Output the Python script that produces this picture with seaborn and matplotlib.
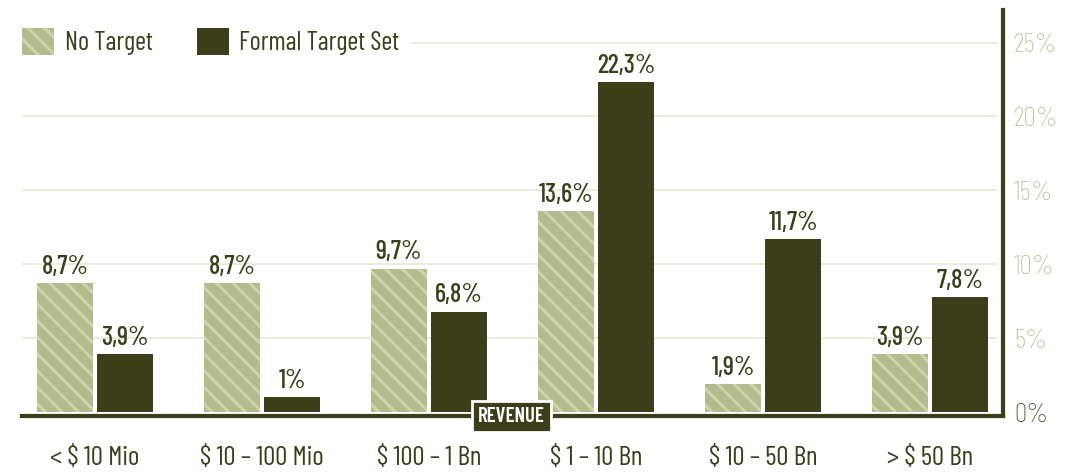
import matplotlib
matplotlib.use("Agg")
import matplotlib.pyplot as plt
import matplotlib.transforms as mtransforms
from matplotlib import font_manager
from matplotlib.patches import Patch
import seaborn as sns
import pandas as pd

categories = ["< $ 10 Mio", "$ 10 – 100 Mio", "$ 100 – 1 Bn", "$ 1 – 10 Bn", "$ 10 – 50 Bn", "> $ 50 Bn"]
no_target = [8.7, 8.7, 9.7, 13.6, 1.9, 3.9]
formal_target = [3.9, 1.0, 6.8, 22.3, 11.7, 7.8]
series_names = ["No Target", "Formal Target Set"]
y_ticks = [0, 5, 10, 15, 20, 25]

DARK = "#3c3e1a"
LIGHT = "#b3ba8b"
HATCH = "#cdd3ae"
GRID = "#e5e8d6"

avail = {f.name for f in font_manager.fontManager.ttflist}
FONT = "DejaVu Sans"
for cand in ["Barlow Condensed", "Barlow Semi Condensed", "Roboto Condensed",
             "Fira Sans Condensed", "Liberation Sans Narrow"]:
    if cand in avail:
        FONT = cand
        break

sns.set_theme(style="white")
plt.rcParams["font.family"] = [FONT, "DejaVu Sans"]
plt.rcParams["hatch.linewidth"] = 2.2

df = pd.DataFrame({
    "cat": categories * 2,
    "val": no_target + formal_target,
    "series": [series_names[0]] * len(categories) + [series_names[1]] * len(categories),
})

fig = plt.figure(figsize=(10.8, 4.72), dpi=100)
ax = fig.add_axes([0.0204, 0.1271, 0.9083, 0.8517])

sns.barplot(data=df, x="cat", y="val", hue="series", order=categories,
            hue_order=series_names, palette=[LIGHT, DARK], width=0.72, gap=0.07,
            saturation=1, legend=False, ax=ax, linewidth=0)

for p in ax.containers[0]:
    p.set_hatch("\\\\")
    p.set_edgecolor(HATCH)
    p.set_linewidth(0)

def fmt(v):
    s = f"{v:.1f}".replace(".", ",")
    if s.endswith(",0"):
        s = s[:-2]
    return s + "%"

for cont in ax.containers:
    ax.bar_label(cont, labels=[fmt(b.get_height()) for b in cont], padding=3,
                 fontsize=19, fontweight="medium", color=DARK)

ax.set_ylim(0, 27.2)
ax.set_xlim(-0.437, 5.437)

for t in y_ticks[1:]:
    ax.axhline(t, xmin=0, xmax=0.994, color=GRID, lw=1.2, zorder=0)

ax.yaxis.tick_right()
ax.set_yticks(y_ticks)
ax.set_yticklabels([f"{t}%" for t in y_ticks])
ax.tick_params(axis="y", length=0, pad=8, labelsize=20)
for lab, t in zip(ax.get_yticklabels(), y_ticks):
    lab.set_color(DARK if t == 0 else LIGHT)
    lab.set_fontweight("light")

ax.tick_params(axis="x", length=0, pad=21, labelsize=19.5, labelcolor=DARK)
for lab in ax.get_xticklabels():
    lab.set_fontweight("semibold")

ax.set_xlabel("")
ax.set_ylabel("")
for s in ["top", "left"]:
    ax.spines[s].set_visible(False)
ax.spines["bottom"].set_color(DARK)
ax.spines["bottom"].set_linewidth(3)
ax.spines["bottom"].set_position(("data", -0.3))
ax.spines["right"].set_color(DARK)
ax.spines["right"].set_linewidth(3)
ax.spines["right"].set_bounds(-0.3, 27.2)

trans = mtransforms.blended_transform_factory(ax.transAxes, ax.transData)
ax.text(0.499, -0.3, "REVENUE", transform=trans,
        ha="center", va="center", fontsize=15, fontweight="semibold", color="white",
        bbox=dict(boxstyle="square,pad=0.3", fc=DARK, ec="white", lw=2), zorder=10)

handles = [Patch(facecolor=LIGHT, edgecolor=HATCH, hatch="\\\\", lw=0, label=series_names[0]),
           Patch(facecolor=DARK, edgecolor=DARK, lw=0, label=series_names[1])]
leg = ax.legend(handles=handles, loc="upper left", ncol=2, frameon=True, fontsize=19,
                bbox_to_anchor=(-0.0105, 0.982), borderaxespad=0,
                handlelength=1.2, handleheight=1.2,
                columnspacing=1.7, handletextpad=0.4, borderpad=0.4, labelcolor=DARK)
leg.get_frame().set_facecolor("white")
leg.get_frame().set_edgecolor("white")
leg.get_frame().set_alpha(1)

fig.savefig("out.png", dpi=100, facecolor="white")
